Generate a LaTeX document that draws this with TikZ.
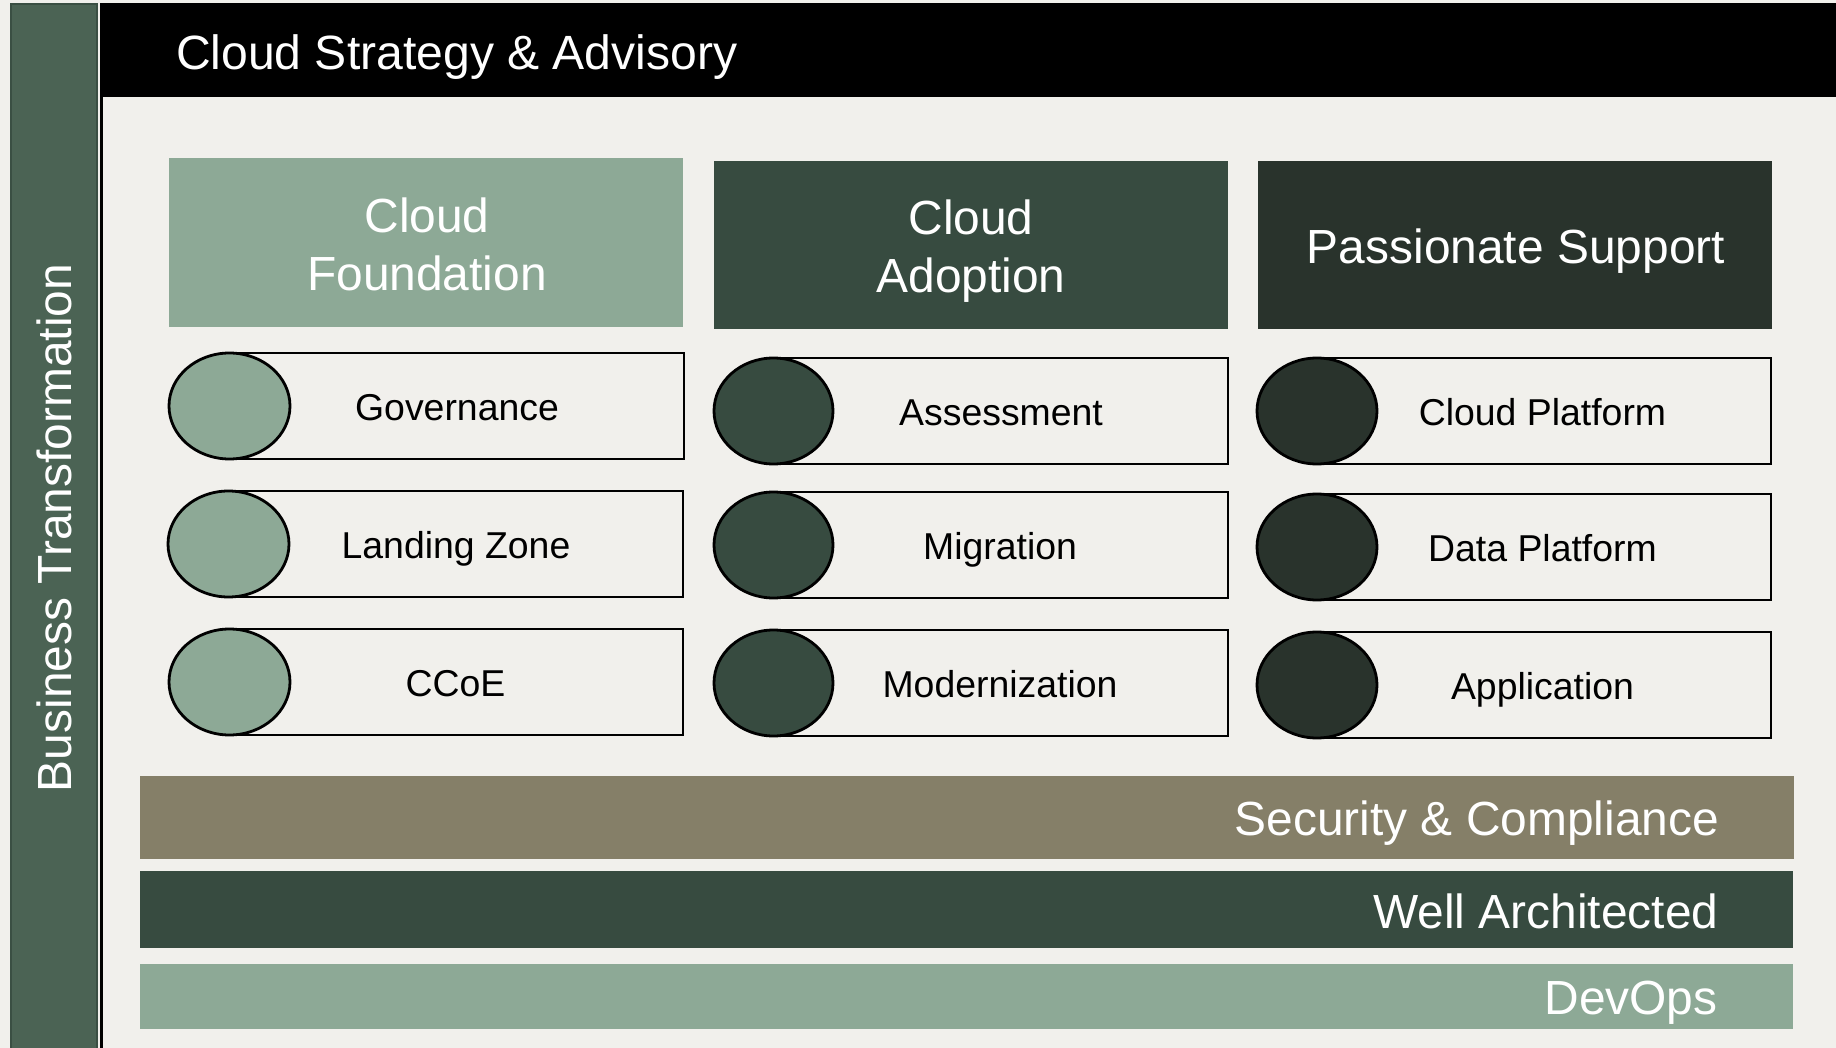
\documentclass[tikz,border=0pt]{standalone}
\usepackage{fontspec}
\setmainfont{Liberation Sans}
\definecolor{pagebg}{HTML}{F1F0EC}
\definecolor{sidebar}{HTML}{4B6354}
\definecolor{sideedge}{HTML}{3A4F43}
\definecolor{sage}{HTML}{8DA996}
\definecolor{pine}{HTML}{374B40}
\definecolor{coal}{HTML}{29332C}
\definecolor{khaki}{HTML}{857F68}
\tikzset{
  big/.style={font=\fontsize{47.9}{58}\selectfont,text=white,inner sep=0pt,outer sep=0pt},
  bighead/.style={big,align=center,anchor=center},
  bigleft/.style={big,font=\fontsize{48.1}{58}\selectfont,anchor=base west},
  bigright/.style={big,anchor=base east},
  small/.style={font=\fontsize{37.4}{44}\selectfont,text=black,inner sep=0pt,outer sep=0pt,anchor=base},
  pillline/.style={line width=2.8pt,draw=black},
}
% #1 fill, #2 left, #3 top, #4 right, #5 bottom, #6 ellipse right, #7 name, #8 text centre x, #9 text
\newcommand{\pillrow}[9]{%
  \pgfmathsetmacro{\ecx}{(#2+#6)/2}%
  \pgfmathsetmacro{\ecy}{(#3+#5)/2}%
  \pgfmathsetmacro{\erx}{(#6-#2)/2}%
  \pgfmathsetmacro{\ery}{(#5-#3)/2}%
  \pgfmathsetmacro{\tby}{\ecy+14.5}%
  \draw[pillline,fill=pagebg] (\ecx,#3) rectangle (#4,#5);
  \draw[pillline,fill=#1] (\ecx,\ecy) ellipse [x radius=\erx, y radius=\ery];
  \node[small] (#7) at (#8,\tby) {#9};
}
\begin{document}
\begin{tikzpicture}[x=1pt,y=-1pt]
\useasboundingbox (0,0) rectangle (1836,1048);
\fill[pagebg] (0,0) rectangle (1836,1048);
% side bar
\draw[fill=sidebar,draw=sideedge,line width=2pt] (11,4) rectangle (97,1050);
\node[big,rotate=90,anchor=base west] (biz) at (71.5,792) {Business Transformation};
% top band and its left rule
\fill[black] (100,3) rectangle (1836,97);
\fill[black] (100,3) rectangle (103,1048);
\node[bigleft] (top) at (176,70) {Cloud Strategy \& Advisory};
% column headers
\fill[sage] (169,158) rectangle (683,327);
\fill[pine] (714,161) rectangle (1228,329.5);
\fill[coal] (1258,161) rectangle (1772,329.5);
\node[bighead] (h1) at (427,244) {Cloud\\Foundation};
\node[bighead] (h2) at (971,251) {Cloud\\Adoption};
\node[bighead] (h3) at (1516,251) {Passionate Support};
% rows
\pillrow{sage}{169}{353}{684}{459}{290}{g}{457}{Governance}
\pillrow{sage}{168}{491}{683}{597}{289}{l}{456}{Landing Zone}
\pillrow{sage}{169}{629}{683}{735}{290}{c}{455.5}{CCoE}
\pillrow{pine}{714}{358}{1228}{464}{833}{a}{1001}{Assessment}
\pillrow{pine}{714}{492}{1228}{598}{833}{m}{1000}{Migration}
\pillrow{pine}{714}{630}{1228}{736}{833}{o}{1000}{Modernization}
\pillrow{coal}{1257}{358}{1771}{464}{1377}{p}{1542.5}{Cloud Platform}
\pillrow{coal}{1257}{494}{1771}{600}{1377}{d}{1542.5}{Data Platform}
\pillrow{coal}{1257}{632}{1771}{738}{1377}{e}{1542.5}{Application}
% bars
\fill[khaki] (140,776) rectangle (1794,859);
\fill[pine] (140,871) rectangle (1793,948);
\fill[sage] (140,964) rectangle (1793,1029);
\node[bigright] (s) at (1719,835) {Security \& Compliance};
\node[bigright] (w) at (1718.5,928) {Well Architected};
\node[bigright] (v) at (1717.5,1014) {DevOps};
\end{tikzpicture}
\end{document}
